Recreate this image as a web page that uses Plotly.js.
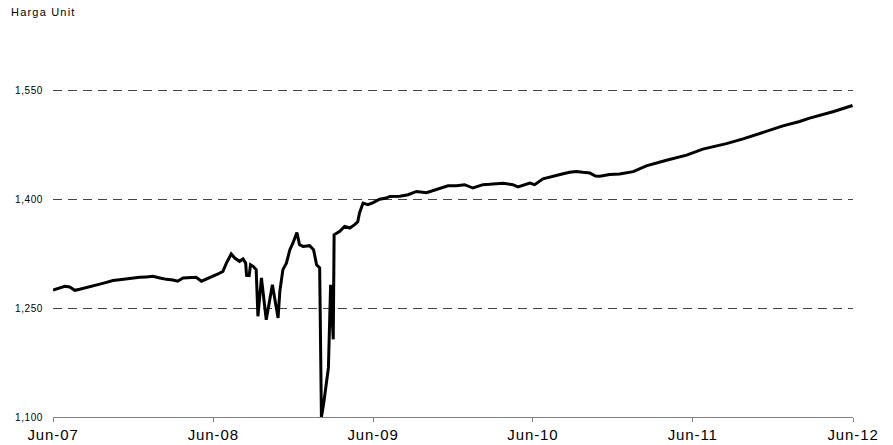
<!DOCTYPE html>
<html>
<head>
<meta charset="utf-8">
<script src="https://cdn.plot.ly/plotly-3.0.1.min.js"></script>
<style>
html,body{margin:0;padding:0;background:#fff;}
#chart{width:893px;height:445px;}
#chart .xtick text{letter-spacing:0.9px;}
#chart .ytick text{letter-spacing:0.6px;}
#chart .annotation-text{letter-spacing:1.2px;}
</style>
</head>
<body>
<div id="chart"></div>
<script>
// Data
const dates = [
"2007-06-01","2007-06-16","2007-06-28","2007-07-09","2007-07-21","2007-08-01","2007-08-16","2007-08-31",
"2007-09-16","2007-10-01","2007-10-16","2007-10-31","2007-11-16","2007-12-01","2007-12-16","2007-12-31",
"2008-01-15","2008-01-31","2008-02-15","2008-03-01","2008-03-12","2008-03-24","2008-04-08","2008-04-23",
"2008-05-05","2008-05-16","2008-05-31","2008-06-12","2008-06-23","2008-07-01","2008-07-12","2008-07-20",
"2008-07-31","2008-08-08","2008-08-14","2008-08-16","2008-08-22","2008-08-25","2008-08-31","2008-09-07",
"2008-09-11","2008-09-19","2008-09-30","2008-10-14","2008-10-27","2008-10-31","2008-11-07","2008-11-15",
"2008-11-23","2008-11-30","2008-12-09","2008-12-15","2008-12-23","2009-01-07","2009-01-16","2009-01-23",
"2009-01-30","2009-02-03","2009-02-08","2009-02-14","2009-02-19","2009-02-24","2009-03-02","2009-03-04",
"2009-03-09","2009-03-17","2009-03-28","2009-04-09","2009-04-20","2009-04-27","2009-05-01","2009-05-09",
"2009-05-20","2009-05-31","2009-06-16","2009-07-01","2009-07-09","2009-08-01","2009-08-20","2009-09-08",
"2009-10-01","2009-10-24","2009-11-19","2009-12-08","2009-12-27","2010-01-15","2010-02-07","2010-02-22",
"2010-03-25","2010-04-16","2010-04-28","2010-05-25","2010-06-05","2010-06-24","2010-07-17","2010-08-09",
"2010-08-24","2010-09-08","2010-09-23","2010-10-09","2010-10-22","2010-11-01","2010-11-23","2010-12-16",
"2011-01-16","2011-02-15","2011-04-02","2011-05-18","2011-06-24","2011-08-17","2011-09-24","2011-11-16",
"2011-12-24","2012-01-31","2012-02-23","2012-04-16","2012-05-31"
];
const hargaUnit = [
1275,1278,1280,1279,1274.5,1276,1278,1280,
1283,1285.5,1288,1289,1290.5,1291.5,1292.4,1293,
1293.7,1291.5,1289.6,1288.8,1287,1291.5,1291.5,1292.4,
1287,1289.6,1293.3,1297,1300.6,1312,1324.6,1319,
1314.4,1317.7,1312,1295,1294.7,1309.8,1307.5,1303,
1238.7,1291.5,1234,1282.3,1236.5,1273,1303,1312,
1330.5,1339.7,1354,1337.4,1335,1336,1330.5,1309.8,
1305.3,1100,1118,1150,1168,1282,1207,1351,
1352.5,1355.7,1362.5,1360.3,1364.9,1369,1381,1394.7,
1392.4,1395,1400,1401.6,1403.8,1404,1406.2,1410.7,
1409,1413.5,1418.5,1418.5,1420,1415.4,1420,1420.5,
1422,1420,1417,1422.3,1420,1428,1432,1435,
1437,1438.2,1437,1436,1432,1431.5,1434,1434.6,
1438,1446,1453.6,1460.7,1469,1476.5,1483,1493,
1501,1507,1511.7,1520.4,1529
];
const yTickVals = [1100, 1250, 1400, 1550];
const yTickText = ["1,100", "1,250", "1,400", "1,550"];
const xTickVals = ["2007-06-01","2008-06-01","2009-06-01","2010-06-01","2011-06-01","2012-06-01"];
const xTickText = ["Jun-07","Jun-08","Jun-09","Jun-10","Jun-11","Jun-12"];
const yTitle = "Harga Unit";

const trace = {
  x: dates, y: hargaUnit, type: "scatter", mode: "lines",
  line: {color: "#000000", width: 3},
  hoverinfo: "skip"
};

const layout = {
  width: 893, height: 445,
  margin: {l: 53, r: 40, t: 54, b: 27.5, pad: 0},
  paper_bgcolor: "#ffffff", plot_bgcolor: "#ffffff",
  showlegend: false,
  font: {family: "Liberation Sans, Arial, sans-serif", color: "#000"},
  xaxis: {
    type: "date",
    range: ["2007-06-01", "2012-06-01"],
    tickmode: "array", tickvals: xTickVals, ticktext: xTickText,
    tickfont: {size: 15, color: "#000"},
    showgrid: false, zeroline: false,
    showline: true, linecolor: "#808080", linewidth: 1,
    ticks: "outside", ticklen: 4, tickcolor: "#808080", tickwidth: 1,
    ticklabelstandoff: 0
  },
  yaxis: {
    range: [1100, 1600],
    tickmode: "array", tickvals: yTickVals, ticktext: yTickText,
    tickfont: {size: 10, color: "#000"},
    showgrid: true, gridcolor: "#444", gridwidth: 1, griddash: "9px,6px",
    zeroline: false, showline: false, ticks: "",
    ticklabelstandoff: 9
  },
  annotations: [{
    text: yTitle, xref: "paper", yref: "paper",
    x: -0.048, y: 1.1155, xanchor: "left", yanchor: "middle",
    showarrow: false, font: {size: 11, color: "#000"}
  }]
};

Plotly.newPlot("chart", [trace], layout, {displayModeBar: false, staticPlot: true});
</script>
</body>
</html>
